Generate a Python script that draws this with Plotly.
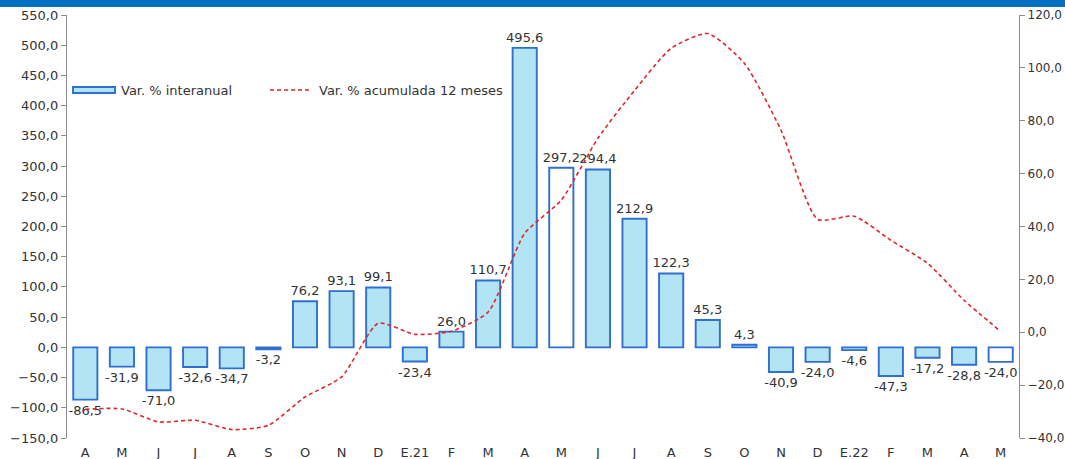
import plotly.graph_objects as go

months = ["A", "M", "J", "J", "A", "S", "O", "N", "D", "E.21", "F", "M", "A",
          "M", "J", "J", "A", "S", "O", "N", "D", "E.22", "F", "M", "A", "M"]
var_interanual = [-86.5, -31.9, -71.0, -32.6, -34.7, -3.2, 76.2, 93.1, 99.1, -23.4,
                  26.0, 110.7, 495.6, 297.2, 294.4, 212.9, 122.3, 45.3, 4.3, -40.9,
                  -24.0, -4.6, -47.3, -17.2, -28.8, -24.0]
var_acumulada = [-29.1, -29.0, -33.9, -33.3, -36.8, -35.2, -24.5, -16.9, 3.4, -0.8,
                 0.4, 7.6, 37.4, 50.0, 73.4, 91.5, 107.4, 113.0, 101.7, 76.4,
                 42.7, 43.9, 34.8, 26.1, 12.1, 0.3]
hollow_bars = [13, 25]
name_bar = "Var. % interanual"
name_line = "Var. % acumulada 12 meses"

W, H = 1065, 459
ml, mr, mt, mb = 67, 46, 15, 21
ph = H - mt - mb
pw = W - ml - mr


def px(xp):
    return (xp - ml) / pw


def py(yp):
    return (H - mb - yp) / ph


FONT = "DejaVu Sans"
FS = 13
TXT = "#333333"
AX = "#8c8c8c"
FILL = "#b2e4f3"
EDGE = "#2f6fd0"
RED = "#e0262b"

x = list(range(len(months)))
fills = ["#ffffff" if i in hollow_bars else FILL for i in x]

fig = go.Figure()
fig.add_trace(go.Bar(
    x=x, y=var_interanual, name=name_bar, showlegend=False,
    marker=dict(color=fills, line=dict(color=EDGE, width=1.9)),
    width=0.66,
    text=var_interanual, texttemplate="%{y:.1f}", textposition="outside",
    textfont=dict(family=FONT, size=FS, color=TXT),
    constraintext="none", cliponaxis=False,
    yaxis="y", xaxis="x",
))
fig.add_trace(go.Scatter(
    x=x, y=var_acumulada, name=name_line, showlegend=False,
    mode="lines", line=dict(color=RED, width=1.6, dash="4px,3px", shape="spline", smoothing=0.6),
    yaxis="y2", xaxis="x",
))

zero_pos = (0 - (-150)) / 700.0

shapes = [
    dict(type="rect", xref="paper", yref="paper",
         x0=-ml / pw, x1=(W - ml) / pw, y0=1 + 8 / ph, y1=1 + 15 / ph,
         fillcolor="#0070c0", line=dict(width=0), layer="above"),
    # legend keys
    dict(type="rect", xref="paper", yref="paper",
         x0=px(73), x1=px(115), y0=py(93), y1=py(87),
         fillcolor=FILL, line=dict(color=EDGE, width=1.9), layer="above"),
    dict(type="line", xref="paper", yref="paper",
         x0=px(270), x1=px(310), y0=py(90), y1=py(90),
         line=dict(color=RED, width=1.6, dash="4px,3px"), layer="above"),
]
annotations = [
    dict(text=name_bar, xref="paper", yref="paper", x=px(119), y=py(90),
         xanchor="left", yanchor="middle", showarrow=False,
         font=dict(family=FONT, size=FS, color=TXT)),
    dict(text=name_line, xref="paper", yref="paper", x=px(317), y=py(90),
         xanchor="left", yanchor="middle", showarrow=False,
         font=dict(family=FONT, size=FS, color=TXT)),
]

fig.update_layout(
    width=W, height=H,
    margin=dict(l=ml, r=mr, t=mt, b=mb, autoexpand=False),
    paper_bgcolor="white", plot_bgcolor="white",
    separators=",.",
    font=dict(family=FONT, size=FS, color=TXT),
    showlegend=False,
    bargap=0.34,
    xaxis=dict(range=[-0.5, len(months) - 0.5], tickvals=x, ticktext=months,
               showline=False, ticks="", showgrid=False, zeroline=False, automargin=False,
               ticklabelstandoff=5,
               tickfont=dict(family=FONT, size=FS, color=TXT)),
    xaxis2=dict(range=[-0.5, len(months) - 0.5], overlaying="x", anchor="free",
                position=zero_pos, showline=True, linecolor=AX, linewidth=1.4,
                ticks="outside", ticklen=4, tickcolor=AX, tickwidth=1.4,
                tickvals=[i + 0.5 for i in range(-1, len(months))],
                showticklabels=False, showgrid=False, zeroline=False),
    yaxis=dict(range=[-150, 550], dtick=50, tickformat=".1f", showgrid=False, zeroline=False,
               showline=True, linecolor=AX, linewidth=1.4, ticks="outside", ticklen=5,
               tickcolor=AX, automargin=False, tickfont=dict(family=FONT, size=FS, color=TXT)),
    yaxis2=dict(range=[-40, 120], dtick=20, tickformat=".1f", overlaying="y", side="right",
                showgrid=False, zeroline=False, showline=True, linecolor=AX, linewidth=1.4,
                ticks="outside", ticklen=5, tickcolor=AX, automargin=False,
                tickfont=dict(family=FONT, size=12, color=TXT)),
    shapes=shapes,
    annotations=annotations,
)

fig.write_html("out.html", config={"displayModeBar": False},
               post_script="document.body.style.margin='0px';document.body.style.padding='0px';document.body.style.overflow='hidden';")
